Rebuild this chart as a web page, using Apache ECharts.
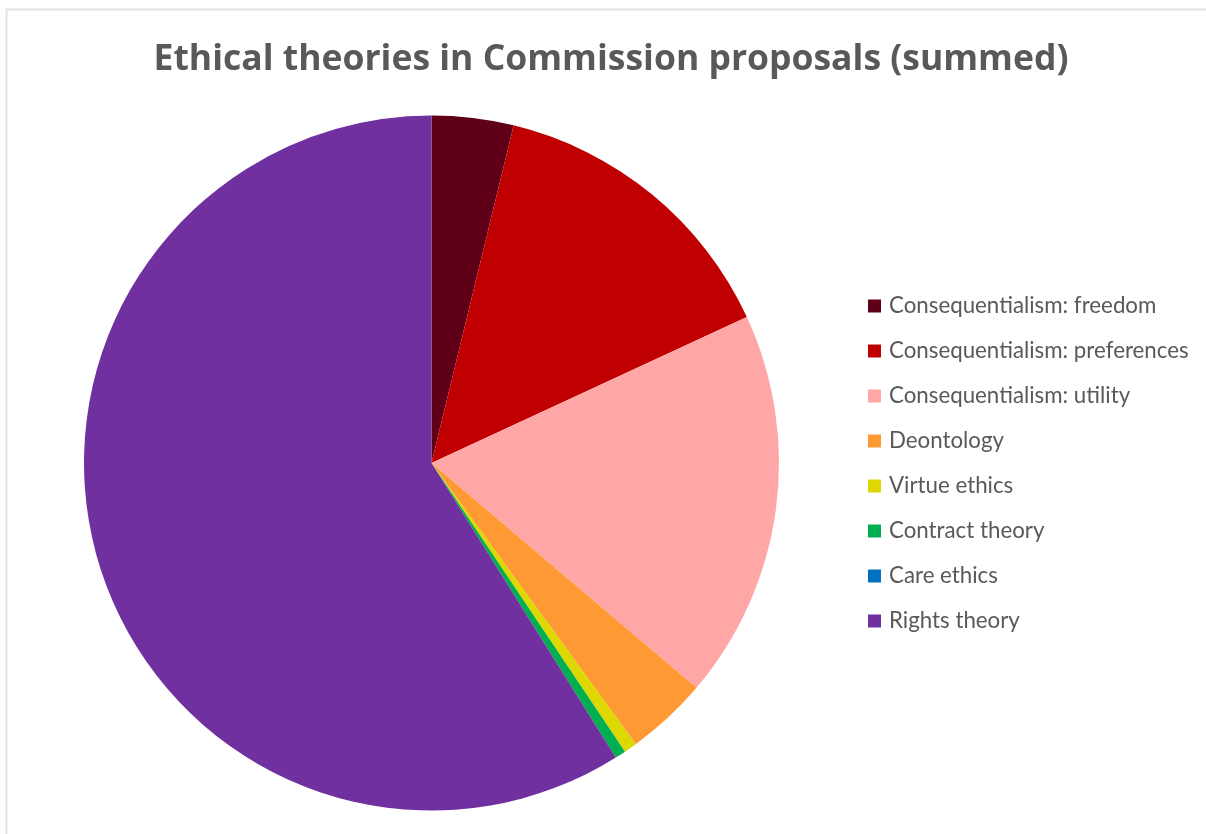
<!DOCTYPE html>
<html>
<head>
<meta charset="utf-8">
<style>
  html, body { margin: 0; padding: 0; background: #ffffff; }
  #chart { width: 1206px; height: 834px; }
</style>
<script src="https://cdn.jsdelivr.net/npm/echarts@6/dist/echarts.min.js"></script>
</head>
<body>
<div id="chart"></div>
<script>
// Share of each ethical theory (percent of summed mentions)
const categories = [
  'Consequentialism: freedom',
  'Consequentialism: preferences',
  'Consequentialism: utility',
  'Deontology',
  'Virtue ethics',
  'Contract theory',
  'Care ethics',
  'Rights theory'
];
const shares = [3.8, 14.3, 18.1, 3.8, 0.6, 0.5, 0, 58.9];
const colors = ['#600018', '#C00000', '#FFA7A7', '#FF9933', '#DDD800', '#00B050', '#0070C0', '#7030A0'];
const titleText = 'Ethical theories in Commission proposals (summed)';

const chart = echarts.init(document.getElementById('chart'), null, { renderer: 'canvas' });

chart.setOption({
  backgroundColor: '#ffffff',
  animation: false,
  color: colors,
  title: {
    text: titleText,
    left: 606,
    textAlign: 'center',
    top: 37,
    textStyle: {
      fontFamily: 'Open Sans',
      fontWeight: 'bold',
      fontSize: 35.5,
      color: '#595959'
    }
  },
  legend: {
    orient: 'vertical',
    left: 868,
    top: 295,
    padding: 0,
    itemWidth: 13,
    itemHeight: 13,
    itemGap: 23,
    icon: 'rect',
    textStyle: {
      fontFamily: 'Lato',
      fontSize: 22.3,
      lineHeight: 22,
      color: '#595959',
      padding: [0, 0, 0, 3]
    },
    data: categories
  },
  graphic: [{
    type: 'rect',
    shape: { x: 6.5, y: 9.5, width: 1300, height: 900 },
    style: { fill: 'none', stroke: '#e3e3e3', lineWidth: 2 },
    silent: true
  }],
  series: [{
    type: 'pie',
    center: [431.5, 463],
    radius: [0, 347.5],
    startAngle: 90,
    clockwise: true,
    label: { show: false },
    labelLine: { show: false },
    emphasis: { disabled: true },
    itemStyle: { borderWidth: 0 },
    data: categories.map((name, i) => ({ name, value: shares[i] }))
  }]
});
</script>
</body>
</html>
